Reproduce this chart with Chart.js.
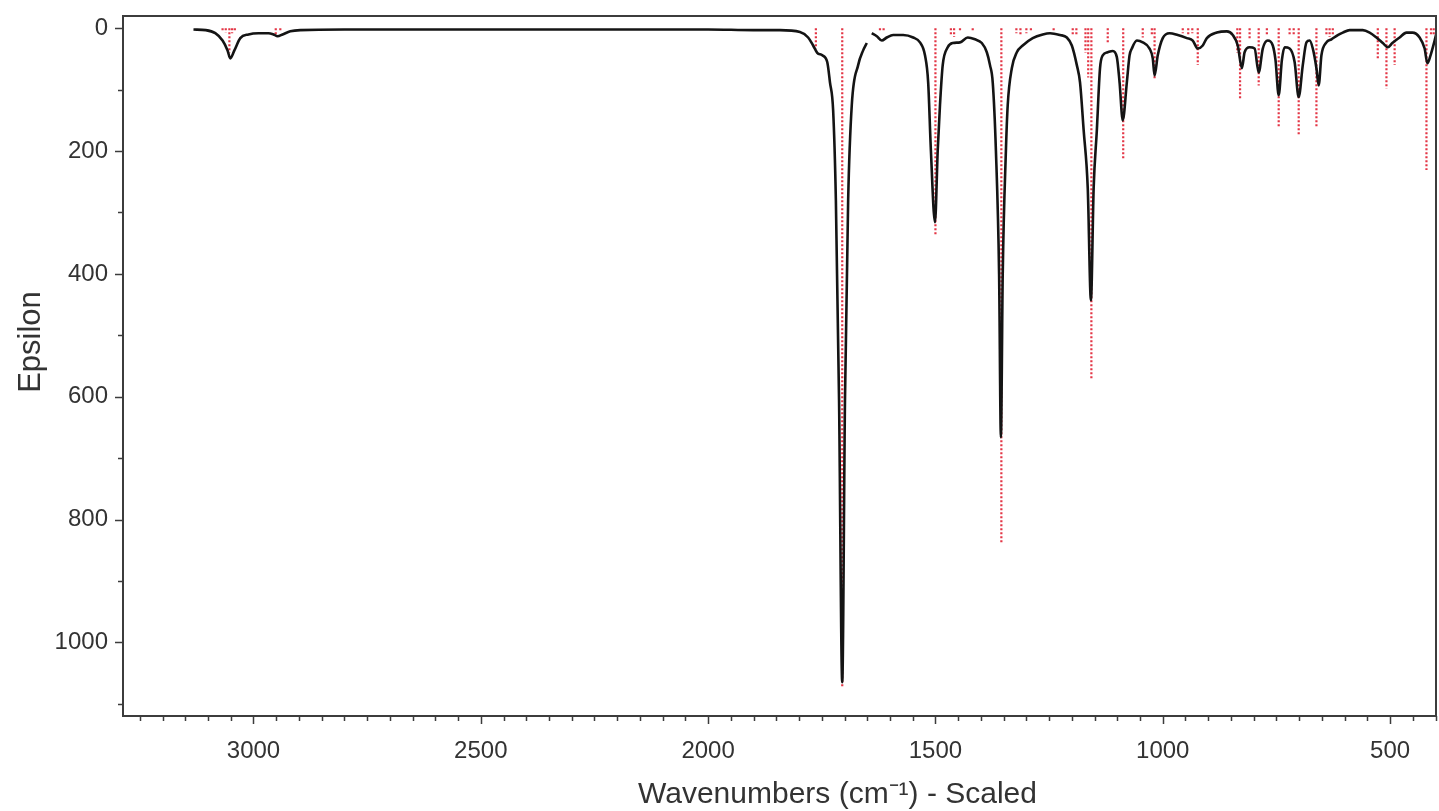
<!DOCTYPE html>
<html>
<head>
<meta charset="utf-8">
<script src="https://cdn.jsdelivr.net/npm/chart.js@4/dist/chart.umd.min.js"></script>
<style>
  body { margin: 0; background: #fff; }
  #spectrum { display: block; }
</style>
</head>
<body>
<canvas id="spectrum" width="1439" height="811"></canvas>
<script>
// Computed IR spectrum: broadened curve (black) and stick intensities (red)
const specWavenumbers = [3132, 3105, 3084, 3068, 3057, 3051, 3042, 3029, 3011, 2989, 2967, 2956, 2947, 2936, 2919, 2897,
  2800, 2600, 2400, 2200, 2000, 1900, 1842, 1798, 1780, 1769, 1760, 1749, 1738, 1732, 1725, 1719, 1712, 1705, 1699,
  1692, 1684, 1670, 1659, 1651, 1646, 1640, 1629, 1618, 1607, 1593, 1571, 1549, 1534, 1523, 1516, 1510, 1501, 1495,
  1490, 1484, 1473, 1462, 1446, 1429, 1413, 1398, 1387, 1380, 1374, 1367, 1360, 1356, 1352, 1345, 1341, 1332, 1321,
  1308, 1286, 1264, 1248, 1226, 1211, 1200, 1189, 1182, 1174, 1165, 1158, 1152, 1145, 1138, 1132, 1121, 1110, 1101,
  1095, 1088, 1079, 1073, 1068, 1057, 1044, 1029, 1022, 1018, 1011, 1000, 985, 967, 947, 934, 923, 912, 903, 881, 859,
  846, 835, 826, 820, 809, 798, 789, 780, 769, 758, 752, 745, 738, 732, 721, 710, 701, 692, 684, 677, 670, 662, 657,
  651, 640, 629, 615, 604, 589, 560, 545, 530, 516, 505, 495, 479, 464, 451, 435, 424, 418, 411, 402, 398];
const specEpsilon = [2, 3, 8, 20, 36, 49, 36, 16, 10, 8, 8, 10, 13, 10, 5, 3,
  2, 2, 2, 2, 2, 3, 3, 6, 15, 28, 40, 44, 55, 88, 134, 280, 606, 1065, 606,
  280, 125, 60, 36, 24, null, 8, 13, 20, 15, 11, 11, 15, 23, 44, 88, 199, 316, 199,
  125, 60, 31, 24, 23, 15, 18, 24, 39, 60, 88, 199, 400, 666, 400, 199, 125, 65, 39,
  28, 16, 10, 8, 11, 15, 28, 60, 88, 166, 260, 443, 260, 166, 65, 44, 39, 37, 47,
  88, 150, 88, 44, 33, 20, 23, 33, 49, 77, 44, 16, 8, 11, 16, 20, 33, 28, 16, 7, 5,
  11, 28, 65, 39, 31, 33, 72, 33, 20, 28, 52, 109, 52, 31, 33, 55, 112, 60, 23, 20, 33, 65, 93,
  44, 23, 18, 11, 7, 3, 3, 7, 15, 24, 31, 24, 15, 7, 7, 15, 33, 57, 44, 20, 8];

const stickWavenumbers = [3068, 3061, 3053, 3047, 3041, 2951, 2941, 1763, 1705, 1622, 1614, 1500, 1466, 1459, 1446,
  1418, 1355, 1322, 1313, 1300, 1290, 1240, 1198, 1190, 1170, 1164, 1157, 1121, 1087, 1044, 1024, 1018, 956, 944,
  935, 923, 836, 830, 809, 789, 771, 745, 721, 712, 701, 662, 640, 633, 626, 527, 508, 490, 420, 410, 404];
const stickIntensities = [5, 7, 40, 8, 5, 10, 5, 33, 1075, 5, 6, 337, 12, 14, 6,
  5, 839, 8, 10, 8, 6, 5, 12, 10, 40, 80, 573, 23, 215, 15, 12, 82, 8, 10,
  8, 60, 40, 114, 18, 93, 12, 163, 10, 12, 174, 163, 12, 14, 10, 49, 98, 60, 231, 12, 10];

const xTickValues = [];
for (let v = 400; v <= 3250; v += 50) xTickValues.push(v);
const yTickValues = [0, 100, 200, 300, 400, 500, 600, 700, 800, 900, 1000, 1100];

const xTitle = 'Wavenumbers (cm⁻¹) - Scaled';
const yTitle = 'Epsilon';

const spectrumPoints = specWavenumbers.map((w, i) => ({ x: w, y: specEpsilon[i] }));
const stickPoints = [];
stickWavenumbers.forEach((w, i) => {
  stickPoints.push({ x: w, y: 0 }, { x: w, y: stickIntensities[i] }, { x: w, y: null });
});

const axisColor = '#3c3c3c';
const textColor = '#333';
const fontFamily = '"Liberation Sans", Arial, Helvetica, sans-serif';

// frame around the plot, long/short tick marks and the two axis titles
const frameTicks = {
  id: 'frameTicks',
  afterDraw(chart) {
    const { ctx, chartArea: a, scales } = chart;
    ctx.save();
    ctx.strokeStyle = axisColor;
    ctx.lineWidth = 2;
    ctx.strokeRect(a.left, a.top, a.right - a.left, a.bottom - a.top);
    ctx.lineWidth = 1.5;
    ctx.beginPath();
    xTickValues.forEach(v => {
      const px = Math.round(scales.x.getPixelForValue(v)) + 0.5;
      const len = v % 500 === 0 ? 8 : 5;
      ctx.moveTo(px, a.bottom);
      ctx.lineTo(px, a.bottom + len);
    });
    yTickValues.forEach(v => {
      const py = Math.round(scales.y.getPixelForValue(v)) + 0.5;
      const len = v % 200 === 0 && v <= 1000 ? 8 : 5;
      ctx.moveTo(a.left, py);
      ctx.lineTo(a.left - len, py);
    });
    ctx.stroke();

    ctx.fillStyle = textColor;
    ctx.textAlign = 'center';
    ctx.textBaseline = 'middle';
    ctx.font = '30px ' + fontFamily;
    ctx.fillText(xTitle, (a.left + a.right) / 2 + 58, chart.height - 16);
    ctx.translate(31, (a.top + a.bottom) / 2 - 24);
    ctx.rotate(-Math.PI / 2);
    ctx.font = '31px ' + fontFamily;
    ctx.fillText(yTitle, 0, 0);
    ctx.restore();
  }
};

new Chart(document.getElementById('spectrum'), {
  type: 'line',
  data: {
    datasets: [{
      label: 'Spectrum',
      data: spectrumPoints,
      borderColor: '#141414',
      borderWidth: 2.6,
      pointRadius: 0,
      cubicInterpolationMode: 'monotone',
      spanGaps: false
    }, {
      label: 'Sticks',
      data: stickPoints,
      borderColor: 'rgba(222, 18, 36, 0.85)',
      borderWidth: 2.2,
      borderDash: [2, 2],
      pointRadius: 0,
      tension: 0,
      spanGaps: false
    }]
  },
  options: {
    responsive: false,
    animation: false,
    devicePixelRatio: 1,
    layout: { padding: { top: 16, right: 3, left: 0, bottom: 0 } },
    plugins: {
      legend: { display: false },
      tooltip: { enabled: false }
    },
    scales: {
      x: {
        type: 'linear',
        reverse: true,
        min: 399,
        max: 3287,
        afterBuildTicks: scale => { scale.ticks = xTickValues.map(v => ({ value: v })); },
        afterFit: scale => {
          scale.height = 95;
          scale.paddingLeft = 0;
          scale.paddingRight = 0;
        },
        ticks: {
          autoSkip: false,
          maxRotation: 0,
          padding: 13,
          color: textColor,
          font: { family: fontFamily, size: 24 },
          callback: v => (v % 500 === 0 ? String(v) : '')
        },
        grid: { drawOnChartArea: false, tickLength: 8, tickColor: 'rgba(0,0,0,0)' },
        border: { color: axisColor, width: 2 }
      },
      y: {
        type: 'linear',
        reverse: true,
        min: -20,
        max: 1120,
        afterBuildTicks: scale => { scale.ticks = yTickValues.map(v => ({ value: v })); },
        afterFit: scale => {
          scale.width = 123;
          scale.paddingTop = 0;
          scale.paddingBottom = 0;
        },
        ticks: {
          padding: 7,
          color: textColor,
          font: { family: fontFamily, size: 24 },
          callback: v => (v % 200 === 0 && v <= 1000 ? String(v) : '')
        },
        grid: { drawOnChartArea: false, tickLength: 8, tickColor: 'rgba(0,0,0,0)' },
        border: { color: axisColor, width: 2 }
      }
    }
  },
  plugins: [frameTicks]
});
</script>
</body>
</html>
